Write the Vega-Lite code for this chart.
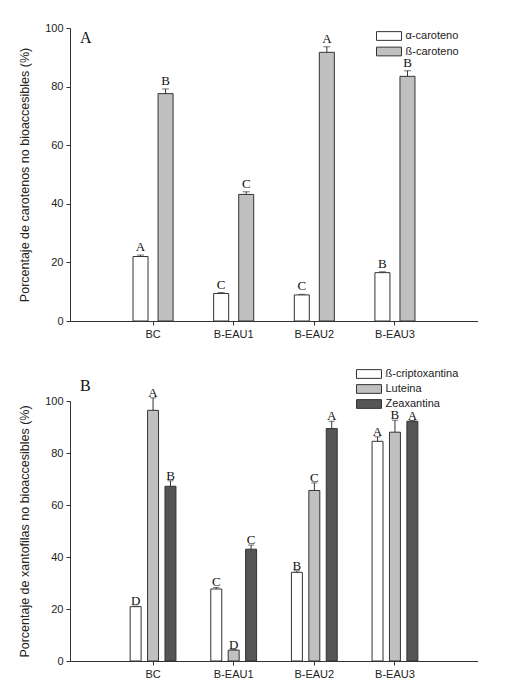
{
  "$schema": "https://vega.github.io/schema/vega-lite/v6.json",
  "background": "white",
  "padding": {"top": 22, "left": 18, "right": 0, "bottom": 0},
  "spacing": 28,
  "config": {
    "view": {"stroke": null},
    "font": "Liberation Sans",
    "axis": {
      "labelFont": "Liberation Sans",
      "labelFontSize": 11,
      "labelColor": "#222222",
      "domainColor": "#333333",
      "tickColor": "#333333",
      "tickSize": 4,
      "grid": false,
      "titleFont": "Liberation Sans",
      "titleFontWeight": "normal",
      "titleFontSize": 12.5,
      "titleColor": "#222222"
    },
    "legend": {
      "labelFont": "Liberation Sans",
      "labelFontSize": 11,
      "labelColor": "#222222",
      "symbolType": "M-2,-0.7H2V0.7H-2Z",
      "symbolSize": 156,
      "symbolStrokeColor": "#333333",
      "symbolStrokeWidth": 1,
      "labelOffset": 9.5,
      "rowPadding": 1,
      "padding": 0,
      "title": null
    },
    "title": {"font": "Liberation Serif", "fontSize": 16, "fontWeight": "normal", "anchor": "start", "frame": "group", "color": "#111111"}
  },
  "resolve": {
    "scale": {"fill": "independent", "xOffset": "independent", "x": "independent"},
    "legend": {"fill": "independent"}
  },
  "vconcat": [
    {
      "title": {"text": "A", "dx": 10, "dy": 28},
      "width": 408,
      "height": 293,
      "data": {"values": [
        {"muestra": "BC", "pigmento": "α-caroteno", "valor": 22.0, "sup": 22.5, "letra": "A"},
        {"muestra": "BC", "pigmento": "ß-caroteno", "valor": 77.6, "sup": 79.2, "letra": "B"},
        {"muestra": "B-EAU1", "pigmento": "α-caroteno", "valor": 9.4, "sup": 9.7, "letra": "C"},
        {"muestra": "B-EAU1", "pigmento": "ß-caroteno", "valor": 43.2, "sup": 44.1, "letra": "C"},
        {"muestra": "B-EAU2", "pigmento": "α-caroteno", "valor": 8.9, "sup": 9.1, "letra": "C"},
        {"muestra": "B-EAU2", "pigmento": "ß-caroteno", "valor": 91.7, "sup": 93.6, "letra": "A"},
        {"muestra": "B-EAU3", "pigmento": "α-caroteno", "valor": 16.5, "sup": 16.8, "letra": "B"},
        {"muestra": "B-EAU3", "pigmento": "ß-caroteno", "valor": 83.5, "sup": 85.4, "letra": "B"}
      ]},
      "encoding": {
        "x": {
          "field": "muestra", "type": "nominal", "sort": ["BC", "B-EAU1", "B-EAU2", "B-EAU3"],
          "scale": {"paddingInner": 0, "paddingOuter": 0.53},
          "axis": {"title": null, "labelAngle": 0, "labelPadding": 3}
        },
        "xOffset": {
          "field": "pigmento", "type": "nominal", "sort": ["α-caroteno", "ß-caroteno"],
          "scale": {"paddingInner": 0.4, "paddingOuter": 0.81}
        }
      },
      "layer": [
        {
          "mark": {"type": "bar", "stroke": "#333333", "strokeWidth": 1},
          "encoding": {
            "y": {
              "field": "valor", "type": "quantitative",
              "scale": {"domain": [0, 100]},
              "axis": {"values": [0, 20, 40, 60, 80, 100], "title": "Porcentaje de carotenos no bioaccesibles (%)", "titlePadding": 13, "labelPadding": 3}
            },
            "fill": {
              "field": "pigmento", "type": "nominal",
              "scale": {"domain": ["α-caroteno", "ß-caroteno"], "range": ["#ffffff", "#c0c0c0"]},
              "legend": {"orient": "none", "legendX": 312, "legendY": 1, "rowPadding": 1.5}
            }
          }
        },
        {
          "mark": {"type": "rule", "color": "#333333", "strokeWidth": 1},
          "encoding": {"y": {"field": "valor", "type": "quantitative"}, "y2": {"field": "sup"}}
        },
        {
          "mark": {"type": "tick", "color": "#333333", "thickness": 1, "size": 7},
          "encoding": {"y": {"field": "sup", "type": "quantitative"}}
        },
        {
          "mark": {"type": "text", "font": "Liberation Serif", "fontSize": 13, "baseline": "alphabetic", "dy": -4, "color": "#111111"},
          "encoding": {"y": {"field": "sup", "type": "quantitative"}, "text": {"field": "letra"}}
        }
      ]
    },
    {
      "title": {"text": "B", "dx": 10, "offset": 12, "dy": 39},
      "width": 408,
      "height": 260,
      "data": {"values": [
        {"muestra": "BC", "pigmento": "ß-criptoxantina", "valor": 20.9, "sup": 21.1, "letra": "D"},
        {"muestra": "BC", "pigmento": "Luteina", "valor": 96.4, "sup": 101.2, "letra": "A"},
        {"muestra": "BC", "pigmento": "Zeaxantina", "valor": 67.2, "sup": 69.3, "letra": "B"},
        {"muestra": "B-EAU1", "pigmento": "ß-criptoxantina", "valor": 27.7, "sup": 28.3, "letra": "C"},
        {"muestra": "B-EAU1", "pigmento": "Luteina", "valor": 4.2, "sup": 4.4, "letra": "D"},
        {"muestra": "B-EAU1", "pigmento": "Zeaxantina", "valor": 43.0, "sup": 44.6, "letra": "C"},
        {"muestra": "B-EAU2", "pigmento": "ß-criptoxantina", "valor": 34.1, "sup": 34.7, "letra": "B"},
        {"muestra": "B-EAU2", "pigmento": "Luteina", "valor": 65.6, "sup": 68.5, "letra": "C"},
        {"muestra": "B-EAU2", "pigmento": "Zeaxantina", "valor": 89.4, "sup": 92.2, "letra": "A"},
        {"muestra": "B-EAU3", "pigmento": "ß-criptoxantina", "valor": 84.5, "sup": 86.2, "letra": "A"},
        {"muestra": "B-EAU3", "pigmento": "Luteina", "valor": 88.0, "sup": 92.6, "letra": "B"},
        {"muestra": "B-EAU3", "pigmento": "Zeaxantina", "valor": 92.2, "sup": 92.5, "letra": "A"}
      ]},
      "encoding": {
        "x": {
          "field": "muestra", "type": "nominal", "sort": ["BC", "B-EAU1", "B-EAU2", "B-EAU3"],
          "scale": {"paddingInner": 0, "paddingOuter": 0.53},
          "axis": {"title": null, "labelAngle": 0, "labelPadding": 3}
        },
        "xOffset": {
          "field": "pigmento", "type": "nominal", "sort": ["ß-criptoxantina", "Luteina", "Zeaxantina"],
          "scale": {"paddingInner": 0.37, "paddingOuter": 1.23}
        }
      },
      "layer": [
        {
          "mark": {"type": "bar", "stroke": "#333333", "strokeWidth": 1},
          "encoding": {
            "y": {
              "field": "valor", "type": "quantitative",
              "scale": {"domain": [0, 100]},
              "axis": {"values": [0, 20, 40, 60, 80, 100], "title": "Porcentaje de xantofilas no bioaccesibles (%)", "titlePadding": 13, "labelPadding": 3}
            },
            "fill": {
              "field": "pigmento", "type": "nominal",
              "scale": {"domain": ["ß-criptoxantina", "Luteina", "Zeaxantina"], "range": ["#ffffff", "#c0c0c0", "#555555"]},
              "legend": {"orient": "none", "legendX": 292, "legendY": -34, "rowPadding": 1}
            }
          }
        },
        {
          "mark": {"type": "rule", "color": "#333333", "strokeWidth": 1},
          "encoding": {"y": {"field": "valor", "type": "quantitative"}, "y2": {"field": "sup"}}
        },
        {
          "mark": {"type": "tick", "color": "#333333", "thickness": 1, "size": 6},
          "encoding": {"y": {"field": "sup", "type": "quantitative"}}
        },
        {
          "mark": {"type": "text", "font": "Liberation Serif", "fontSize": 13, "baseline": "alphabetic", "dy": -1, "color": "#111111"},
          "encoding": {"y": {"field": "sup", "type": "quantitative"}, "text": {"field": "letra"}}
        }
      ]
    }
  ]
}
